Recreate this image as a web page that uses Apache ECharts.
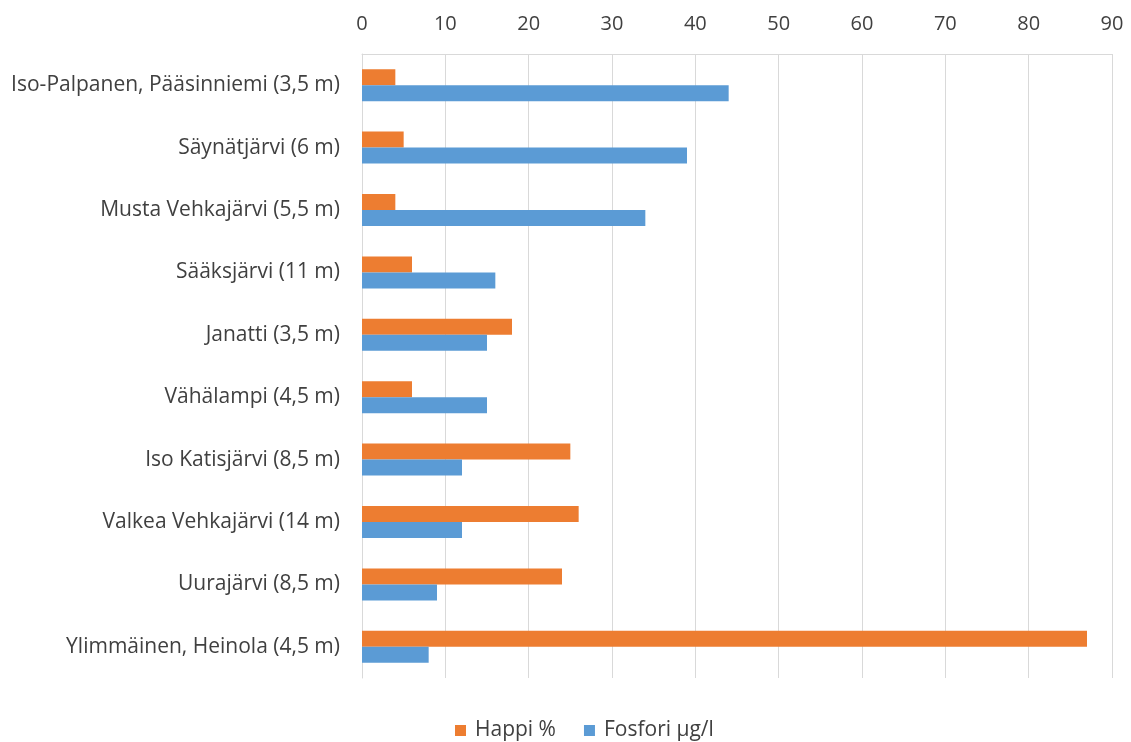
<!DOCTYPE html>
<html>
<head>
<meta charset="utf-8">
<script src="https://cdn.jsdelivr.net/npm/echarts@6/dist/echarts.min.js"></script>
<style>
  html, body { margin: 0; padding: 0; background: #fff; }
  #chart { width: 1131px; height: 742px; }
</style>
</head>
<body>
<div id="chart"></div>
<script>
const categories = [
  'Iso-Palpanen, Pääsinniemi (3,5 m)',
  'Säynätjärvi (6 m)',
  'Musta Vehkajärvi (5,5 m)',
  'Sääksjärvi (11 m)',
  'Janatti (3,5 m)',
  'Vähälampi (4,5 m)',
  'Iso Katisjärvi (8,5 m)',
  'Valkea Vehkajärvi (14 m)',
  'Uurajärvi (8,5 m)',
  'Ylimmäinen, Heinola (4,5 m)'
]
const happi = [4, 5, 4, 6, 18, 6, 25, 26, 24, 87]
const fosfori = [44, 39, 34, 16, 15, 15, 12, 12, 9, 8]

const textColor = '#404040'
const fontFamily = '"Open Sans", sans-serif'

const chart = echarts.init(document.getElementById('chart'))
chart.setOption({
  animation: false,
  textStyle: { fontFamily },
  grid: { left: 362, right: 19, top: 54, bottom: 64 },
  legend: {
    top: 715,
    left: 450,
    itemWidth: 11,
    itemHeight: 11,
    itemGap: 28,
    icon: 'rect',
    textStyle: { color: textColor, fontSize: 21, fontFamily, padding: [0, 0, 0, 4] },
    data: ['Happi %', 'Fosfori µg/l']
  },
  xAxis: {
    type: 'value',
    position: 'top',
    min: 0,
    max: 90,
    interval: 10,
    axisLine: { show: true, lineStyle: { color: '#d9d9d9' } },
    axisTick: { show: false },
    axisLabel: { color: textColor, fontSize: 20, margin: 20 },
    splitLine: { show: true, lineStyle: { color: '#d9d9d9', width: 1 } }
  },
  yAxis: {
    type: 'category',
    inverse: true,
    data: categories,
    axisLine: { show: true, lineStyle: { color: '#d9d9d9' } },
    axisTick: { show: false },
    axisLabel: { color: textColor, fontSize: 21, margin: 22 }
  },
  series: [
    {
      name: 'Happi %',
      type: 'bar',
      data: happi,
      barWidth: 16,
      barGap: '0%',
      itemStyle: { color: '#ED7D31' }
    },
    {
      name: 'Fosfori µg/l',
      type: 'bar',
      data: fosfori,
      barWidth: 16,
      barGap: '0%',
      itemStyle: { color: '#5B9BD5' }
    }
  ]
})
</script>
</body>
</html>
